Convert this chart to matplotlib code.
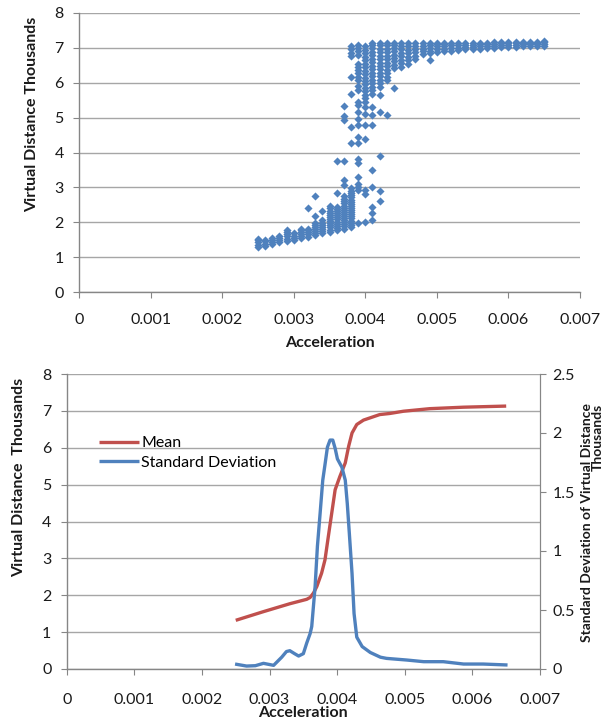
import matplotlib
matplotlib.use('Agg')
import matplotlib.pyplot as plt
from matplotlib.ticker import FuncFormatter

# === DATI ===
# scatter: una colonna di punti per ogni valore di accelerazione
col_accel = [0.0025, 0.0026, 0.0027, 0.0028, 0.0029, 0.0030, 0.0031, 0.0032, 0.0033, 0.0034,
             0.0035, 0.0036, 0.0037, 0.0038, 0.0039, 0.0040, 0.0041, 0.0042, 0.0043, 0.0044,
             0.0045, 0.0046, 0.0047, 0.0048, 0.0049, 0.0050, 0.0051, 0.0052, 0.0053, 0.0054,
             0.0055, 0.0056, 0.0057, 0.0058, 0.0059, 0.0060, 0.0061, 0.0062, 0.0063, 0.0064,
             0.0065]
col_dist = [
    [1.30, 1.36, 1.42, 1.48, 1.53],
    [1.33, 1.39, 1.45, 1.50],
    [1.38, 1.44, 1.50, 1.54],
    [1.42, 1.48, 1.54, 1.60],
    [1.47, 1.53, 1.60, 1.66, 1.72, 1.78],
    [1.49, 1.55, 1.62, 1.68],
    [1.54, 1.60, 1.66, 1.72, 1.78, 1.82],
    [1.59, 1.65, 1.71, 1.77, 1.82, 2.42],
    [1.63, 1.69, 1.75, 1.81, 1.87, 1.92, 1.97, 2.19, 2.75],
    [1.68, 1.74, 1.80, 1.86, 1.92, 1.98, 2.06, 2.32],
    [1.73, 1.79, 1.85, 1.91, 1.97, 2.03, 2.09, 2.15, 2.21, 2.27, 2.33, 2.40, 2.46],
    [1.78, 1.84, 1.90, 1.96, 2.02, 2.08, 2.14, 2.20, 2.26, 2.32, 2.38, 2.44, 2.85, 3.76],
    [1.82, 1.88, 1.94, 2.00, 2.06, 2.12, 2.18, 2.24, 2.30, 2.36, 2.42, 2.48, 2.55, 2.62,
     2.68, 2.75, 3.07, 3.21, 3.76, 4.93, 5.04, 5.34],
    [1.87, 1.93, 1.99, 2.05, 2.11, 2.17, 2.23, 2.29, 2.35, 2.41, 2.47, 2.53, 2.59, 2.65,
     2.71, 2.77, 2.84, 2.90, 2.97, 4.26, 4.74, 5.67, 6.17, 6.76, 6.86, 6.96, 7.06],
    [1.97, 2.92, 3.00, 3.10, 3.30, 3.70, 3.80, 4.26, 4.45, 4.78, 4.97, 5.17, 5.35, 5.45,
     5.80, 5.90, 6.07, 6.17, 6.27, 6.37, 6.46, 6.55, 6.80, 6.90, 7.00, 7.08],
    [2.00, 2.80, 2.93, 4.40, 4.78, 5.11, 5.31, 5.45, 5.55, 5.65, 5.75, 5.85, 5.95, 6.05,
     6.15, 6.25, 6.35, 6.45, 6.55, 6.65, 6.75, 6.85, 6.95, 7.05],
    [2.06, 2.27, 2.45, 3.02, 3.51, 4.80, 5.07, 5.31, 5.69, 5.79, 5.89, 5.99, 6.09, 6.19,
     6.29, 6.39, 6.49, 6.59, 6.69, 6.79, 6.89, 6.99, 7.09, 7.13],
    [2.62, 2.90, 3.91, 5.17, 5.64, 5.88, 5.98, 6.08, 6.18, 6.28, 6.38, 6.48, 6.58, 6.68,
     6.78, 6.88, 6.98, 7.08, 7.13],
    [5.07, 6.07, 6.17, 6.27, 6.37, 6.47, 6.57, 6.67, 6.77, 6.87, 6.97, 7.07, 7.13],
    [5.84, 6.41, 6.51, 6.61, 6.71, 6.81, 6.91, 7.01, 7.09, 7.13],
    [6.46, 6.56, 6.66, 6.76, 6.86, 6.96, 7.06, 7.13],
    [6.55, 6.65, 6.75, 6.85, 6.95, 7.05, 7.13],
    [6.68, 6.78, 6.88, 6.98, 7.06, 7.13],
    [6.82, 6.90, 6.98, 7.06, 7.13],
    [6.64, 6.84, 6.92, 7.00, 7.07, 7.13],
    [6.88, 6.96, 7.04, 7.11, 7.15],
    [6.90, 6.98, 7.06, 7.12, 7.15],
    [6.92, 7.00, 7.07, 7.13],
    [6.94, 7.01, 7.08, 7.14],
    [6.96, 7.03, 7.09, 7.14],
    [6.96, 7.03, 7.09, 7.14],
    [6.98, 7.05, 7.11, 7.15],
    [7.00, 7.06, 7.12, 7.15],
    [7.00, 7.06, 7.12, 7.16],
    [7.02, 7.08, 7.13, 7.16],
    [7.03, 7.09, 7.13, 7.16],
    [7.03, 7.09, 7.14, 7.17],
    [7.04, 7.10, 7.14, 7.17],
    [7.05, 7.10, 7.15, 7.18],
    [7.05, 7.11, 7.15, 7.18],
    [7.06, 7.12, 7.16, 7.19],
]

# media (asse sinistro, migliaia)
mean_x = [0.0025, 0.0029, 0.0033, 0.00355, 0.00360, 0.00365, 0.00370, 0.00377, 0.00382,
          0.00387, 0.00392, 0.00397, 0.00404, 0.00412, 0.00417, 0.00422, 0.00429, 0.00439,
          0.00463, 0.00478, 0.00498, 0.00537, 0.00587, 0.0065]
mean_y = [1.32, 1.55, 1.77, 1.89, 1.94, 2.06, 2.24, 2.60, 2.96, 3.60, 4.23, 4.86, 5.22,
          5.59, 6.04, 6.40, 6.63, 6.75, 6.90, 6.93, 6.99, 7.06, 7.10, 7.13]

# deviazione standard (asse destro)
std_x = [0.00249, 0.00266, 0.00279, 0.00291, 0.00306, 0.00318, 0.00325, 0.00330, 0.00337,
         0.00343, 0.00350, 0.00355, 0.00360, 0.003624, 0.003674, 0.003708, 0.003748,
         0.003787, 0.003822, 0.003856, 0.003895, 0.003935, 0.00397, 0.004004, 0.00407,
         0.00412, 0.00415, 0.00418, 0.00422, 0.00425, 0.00429, 0.00437, 0.00449, 0.00464,
         0.00473, 0.00503, 0.00528, 0.00557, 0.00587, 0.00616, 0.00652]
std_y = [0.042, 0.025, 0.028, 0.048, 0.031, 0.10, 0.148, 0.155, 0.13, 0.11, 0.13, 0.22,
         0.30, 0.36, 0.70, 1.04, 1.32, 1.60, 1.74, 1.88, 1.94, 1.94, 1.87, 1.78, 1.71,
         1.60, 1.40, 1.15, 0.81, 0.47, 0.27, 0.19, 0.14, 0.10, 0.09, 0.076, 0.062, 0.062,
         0.042, 0.042, 0.034]

x_ticks = [0, 0.001, 0.002, 0.003, 0.004, 0.005, 0.006, 0.007]

BLUE = '#4F81BD'
RED = '#C0504D'
GRID = '#A6A6A6'
AXIS = '#868686'
TEXT = '#1A1A1A'
W, H = 602, 723

plt.rcParams['font.family'] = ['Lato', 'DejaVu Sans']
plt.rcParams['font.size'] = 11

fig = plt.figure(figsize=(W / 100, H / 100), dpi=100, facecolor='white')


def px_axes(left, top, right, bottom):
    return fig.add_axes([left / W, 1 - bottom / H, (right - left) / W, (bottom - top) / H])


def stile_assi(ax, right_spine=False):
    ax.set_facecolor('white')
    for s in ['top', 'right']:
        ax.spines[s].set_visible(False)
    if right_spine:
        ax.spines['right'].set_visible(True)
        ax.spines['right'].set_color(AXIS)
    for s in ['left', 'bottom']:
        ax.spines[s].set_color(AXIS)
        ax.spines[s].set_linewidth(1.0)
    ax.grid(axis='y', color=GRID, linewidth=1.0)
    ax.set_axisbelow(True)
    ax.tick_params(axis='both', direction='out', length=4, color=AXIS, labelcolor=TEXT,
                   labelsize=11.5)
    ax.tick_params(axis='y', pad=7)
    ax.tick_params(axis='x', pad=11)
    ax.set_xticks(x_ticks)
    ax.xaxis.set_major_formatter(FuncFormatter(lambda v, p: '%g' % v))


# =========================================================================
# 1. SCATTER
# =========================================================================
ax1 = px_axes(79, 13, 580, 292)
stile_assi(ax1)
for xv, ys in zip(col_accel, col_dist):
    ax1.scatter([xv] * len(ys), ys, marker='D', s=17, color=BLUE, linewidths=0, zorder=3)
ax1.set_xlim(0, 0.007)
ax1.set_ylim(0, 8)
ax1.set_yticks(range(0, 9))
fig.text(330 / W, 1 - 343 / H, 'Acceleration', ha='center', va='center',
         fontsize=11.5, fontweight='bold', color=TEXT)
fig.text(32 / W, 1 - 114 / H, 'Virtual Distance Thousands', rotation=90, ha='center',
         va='center', fontsize=11.5, fontweight='bold', color=TEXT)

# =========================================================================
# 2. MEDIA + DEVIAZIONE STANDARD
# =========================================================================
ax2 = px_axes(66.7, 374, 540, 669)
stile_assi(ax2, right_spine=True)
ax2.set_xlim(0, 0.007)
ax2.set_ylim(0, 8)
ax2.set_yticks(range(0, 9))
ax2.tick_params(axis='x', pad=13)

ax3 = ax2.twinx()
ax3.set_ylim(0, 2.5)
ax3.set_yticks([0, 0.5, 1, 1.5, 2, 2.5])
ax3.yaxis.set_major_formatter(FuncFormatter(lambda v, p: '%g' % v))
for s in ['top', 'left', 'bottom']:
    ax3.spines[s].set_visible(False)
ax3.spines['right'].set_color(AXIS)
ax3.tick_params(axis='y', direction='out', length=4, color=AXIS, labelcolor=TEXT,
                labelsize=11.5, pad=5)

l_mean, = ax2.plot(mean_x, mean_y, color=RED, linewidth=2.4, solid_capstyle='butt',
                   solid_joinstyle='round', label='Mean', zorder=3)
l_std, = ax3.plot(std_x, std_y, color=BLUE, linewidth=2.4, solid_capstyle='butt',
                  solid_joinstyle='round', label='Standard Deviation', zorder=3)

ax3.legend(handles=[l_mean, l_std], loc='upper left', bbox_to_anchor=(0.068, 0.79),
           frameon=False, fontsize=11.5, handlelength=2.5, handletextpad=0.15,
           labelspacing=0.35, borderpad=0, borderaxespad=0)

fig.text(303 / W, 1 - 713 / H, 'Acceleration', ha='center', va='center',
         fontsize=11.5, fontweight='bold', color=TEXT)
fig.text(19 / W, 1 - 477 / H, 'Virtual Distance  Thousands', rotation=90, ha='center',
         va='center', fontsize=11.5, fontweight='bold', color=TEXT)
fig.text(592 / W, 1 - 523 / H, 'Standard Deviation of Virtual Distance\nThousands',
         rotation=90, ha='center', va='center', multialignment='right',
         fontsize=10, fontweight='bold', color=TEXT, linespacing=0.85)

plt.savefig('out.png', dpi=100, facecolor='white')
